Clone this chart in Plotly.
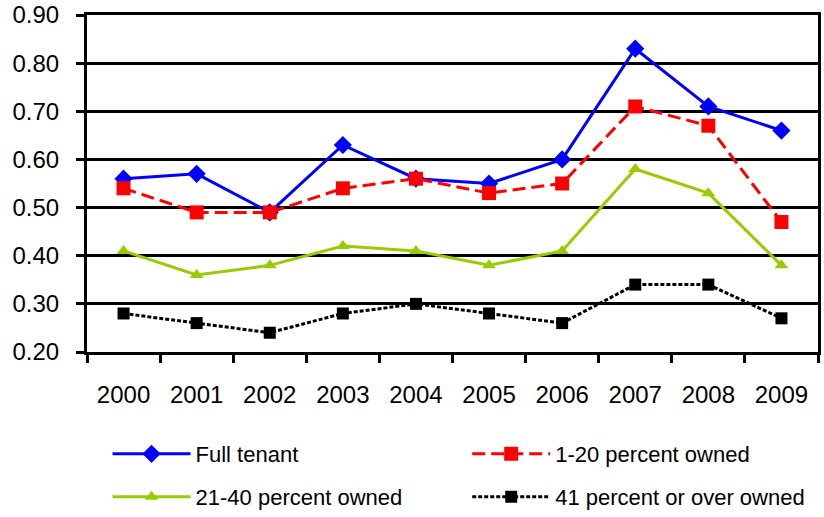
import plotly.graph_objects as go

years = ["2000", "2001", "2002", "2003", "2004", "2005", "2006", "2007", "2008", "2009"]
full_tenant = [0.56, 0.57, 0.49, 0.63, 0.56, 0.55, 0.60, 0.83, 0.71, 0.66]
owned_1_20 = [0.54, 0.49, 0.49, 0.54, 0.56, 0.53, 0.55, 0.71, 0.67, 0.47]
owned_21_40 = [0.41, 0.36, 0.38, 0.42, 0.41, 0.38, 0.41, 0.58, 0.53, 0.38]
owned_41_over = [0.28, 0.26, 0.24, 0.28, 0.30, 0.28, 0.26, 0.34, 0.34, 0.27]
y_ticks = [0.2, 0.3, 0.4, 0.5, 0.6, 0.7, 0.8, 0.9]

FONT = "Liberation Sans, Arial, sans-serif"

series = [
    ("Full tenant", full_tenant, "#0000FF", "solid", "diamond", 14, "legend"),
    ("1-20 percent owned", owned_1_20, "#FF0000", "13px,6px", "square", 14, "legend2"),
    ("21-40 percent owned", owned_21_40, "#99CC00", "solid", "triangle-up", 12, "legend3"),
    ("41 percent or over owned", owned_41_over, "#000000", "4px,2px", "square", 12, "legend4"),
]

fig = go.Figure()
for name, vals, color, dash, symbol, size, leg in series:
    fig.add_trace(go.Scatter(
        x=years, y=vals, name=name, mode="lines+markers",
        line=dict(color=color, width=3, dash=dash),
        marker=dict(symbol=symbol, size=size, color=color),
        legend=leg,
    ))

def legend_at(x, y):
    return dict(
        x=x, y=y, xref="container", yref="container",
        xanchor="left", yanchor="middle",
        font=dict(family=FONT, size=22, color="#000000"),
        itemwidth=78, bgcolor="rgba(0,0,0,0)", borderwidth=0,
    )

fig.update_layout(
    width=824, height=517,
    margin=dict(l=87, r=6, t=15, b=165, autoexpand=False),
    paper_bgcolor="white", plot_bgcolor="white",
    font=dict(family=FONT, size=22, color="#000000"),
    showlegend=True,
    legend=legend_at(0.1305, 1 - 454 / 517),
    legend2=legend_at(0.567, 1 - 454 / 517),
    legend3=legend_at(0.1305, 1 - 497 / 517),
    legend4=legend_at(0.567, 1 - 497 / 517),
    xaxis=dict(
        type="category", tickson="boundaries", range=[-0.5, 9.5],
        showline=True, linecolor="#000000", linewidth=3, mirror=True,
        ticks="outside", ticklen=8, tickwidth=3, tickcolor="#000000",
        showgrid=False, zeroline=False, ticklabelstandoff=19,
        tickfont=dict(family=FONT, size=24, color="#000000"),
    ),
    yaxis=dict(
        range=[0.2, 0.9], tickvals=y_ticks, tickformat=".2f",
        showline=True, linecolor="#000000", linewidth=3, mirror=True,
        ticks="outside", ticklen=8, tickwidth=3, tickcolor="#000000",
        showgrid=True, gridcolor="#000000", gridwidth=3, zeroline=False,
        ticklabelstandoff=12,
        tickfont=dict(family=FONT, size=24, color="#000000"),
    ),
)

fig.write_html("out.html")
